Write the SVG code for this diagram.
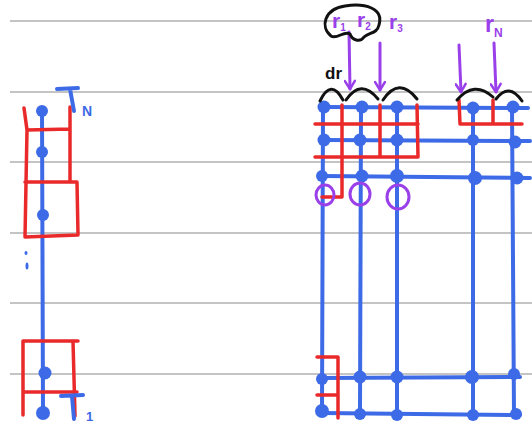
<svg xmlns="http://www.w3.org/2000/svg" width="532" height="429" viewBox="0 0 532 429">
<style>
.grid{stroke:#c4c4c4;stroke-width:2}
.bl{stroke:#3d6ae6;stroke-width:4;fill:none;stroke-linecap:round;stroke-linejoin:round}
.dot{fill:#3d6ae6}
.rd{stroke:#ea2a2a;stroke-width:3.5;fill:none;stroke-linecap:round;stroke-linejoin:round}
.pu{stroke:#9a40ea;stroke-width:3;fill:none;stroke-linecap:round}
.bk{stroke:#111;stroke-width:3;fill:none;stroke-linecap:round}
.lbl{font-family:"Liberation Sans",Arial,sans-serif;font-weight:bold}
.pt{fill:#9a40ea}
.bt{fill:#3d6ae6}
</style>
<defs>
<marker id="ah" viewBox="0 0 12 12" refX="10" refY="6" markerWidth="12" markerHeight="12" markerUnits="userSpaceOnUse" orient="auto">
<path d="M2,1 L10,6 L2,11" fill="none" stroke="#9a40ea" stroke-width="2.5" stroke-linecap="round" stroke-linejoin="round"/>
</marker>
</defs>
<g id="ruled-lines">
<line class="grid" x1="10" y1="21" x2="532" y2="21"/>
<line class="grid" x1="10" y1="92" x2="532" y2="92"/>
<line class="grid" x1="10" y1="162" x2="532" y2="162"/>
<line class="grid" x1="10" y1="233" x2="532" y2="233"/>
<line class="grid" x1="10" y1="303" x2="532" y2="303"/>
<line class="grid" x1="10" y1="374" x2="532" y2="374"/>
</g>
<g id="left-chain">
<line class="bl" x1="42" y1="108" x2="43" y2="413"/>
<circle class="dot" cx="42" cy="111" r="6"/>
<circle class="dot" cx="42" cy="152" r="6"/>
<circle class="dot" cx="43" cy="215" r="6"/>
<circle class="dot" cx="45" cy="373" r="6.5"/>
<circle class="dot" cx="43" cy="413" r="7"/>
<ellipse class="dot" cx="26" cy="253" rx="1.5" ry="2"/>
<ellipse class="dot" cx="27" cy="266" rx="1.5" ry="3.5"/>
</g>
<g id="left-boxes-top">
<path class="rd" d="M24,108 L27,130 L25,237 L78,235 L77,182 L25,182 M27,130 L70,129 M70,107 L70,182"/>
</g>
<g id="left-boxes-bottom">
<path class="rd" d="M23,415 L23,341 L78,341 M23,392 L77,392 M73,341 L75,416"/>
</g>
<g id="label-TN">
<path class="bl" d="M57,89 L78,88 M70,89 L74,111"/>
<text class="lbl bt" x="82" y="116" font-size="14">N</text>
</g>
<g id="label-T1">
<path class="bl" d="M61,396 L83,395 M72,396 L74,419"/>
<text class="lbl bt" x="86" y="421" font-size="13">1</text>
</g>
<g id="right-grid">
<line class="bl" x1="324" y1="107" x2="528" y2="108"/>
<line class="bl" x1="324" y1="140" x2="530" y2="141"/>
<line class="bl" x1="322" y1="176" x2="530" y2="178"/>
<line class="bl" x1="322" y1="378" x2="520" y2="377"/>
<line class="bl" x1="322" y1="413" x2="520" y2="415"/>
<line class="bl" x1="323" y1="107" x2="322" y2="413"/>
<line class="bl" x1="361" y1="107" x2="360" y2="414"/>
<line class="bl" x1="397" y1="107" x2="397" y2="416"/>
<line class="bl" x1="473" y1="107" x2="473" y2="415"/>
<line class="bl" x1="512" y1="107" x2="514" y2="415"/>
<g class="dot">
<circle cx="324" cy="107" r="6.5"/><circle cx="362" cy="107" r="6.5"/><circle cx="397" cy="107" r="6.5"/><circle cx="473" cy="108" r="6.5"/><circle cx="513" cy="107" r="6.5"/>
<circle cx="324" cy="140" r="6.5"/><circle cx="360" cy="140" r="6.5"/><circle cx="397" cy="140" r="6.5"/><circle cx="473" cy="140" r="6"/><circle cx="515" cy="142" r="6.5"/>
<circle cx="322" cy="176" r="6"/><circle cx="362" cy="176" r="6.5"/><circle cx="397" cy="176" r="7"/><circle cx="475" cy="178" r="7"/><circle cx="517" cy="178" r="6.5"/>
<circle cx="322" cy="379" r="6"/><circle cx="360" cy="377" r="6.5"/><circle cx="397" cy="377" r="6.5"/><circle cx="472" cy="377" r="7"/><circle cx="514" cy="374" r="6"/>
<circle cx="322" cy="411" r="7"/><circle cx="360" cy="414" r="6"/><circle cx="397" cy="415" r="6"/><circle cx="473" cy="415" r="6"/><circle cx="516" cy="414" r="6"/>
</g>
</g>
<g id="right-red-grid">
<path class="rd" d="M315,124 L418,124 M315,157 L418,157 M342,105 L342,197 L322,197 M380,105 L380,157 M417,105 L418,157"/>
<path class="rd" d="M459,100 L460,124 L522,124 M493,100 L493,124"/>
<path class="rd" d="M317,357 L338,357 L338,418 M317,395 L338,395"/>
</g>
<g id="circled-marks">
<ellipse class="pu" cx="325" cy="195" rx="9" ry="10"/>
<ellipse class="pu" cx="360" cy="194" rx="10" ry="11"/>
<ellipse class="pu" cx="398" cy="197" rx="11" ry="12"/>
</g>
<g id="arcs">
<path class="bk" d="M320,101 Q331,78 343,100"/>
<path class="bk" d="M346,100 Q361,78 378,99"/>
<path class="bk" d="M383,100 Q399,76 417,99"/>
<path class="bk" d="M457,100 Q474,80 493,97"/>
<path class="bk" d="M496,99 Q509,82 522,101"/>
<text class="lbl" x="325" y="79" font-size="17" fill="#111">dr</text>
</g>
<g id="arrows">
<line class="pu" x1="349" y1="32" x2="350" y2="89" marker-end="url(#ah)"/>
<line class="pu" x1="380" y1="43" x2="380" y2="90" marker-end="url(#ah)"/>
<line class="pu" x1="459" y1="45" x2="461" y2="92" marker-end="url(#ah)"/>
<line class="pu" x1="494" y1="43" x2="496" y2="92" marker-end="url(#ah)"/>
</g>
<g id="r-labels">
<path class="bk" d="M331,36 C320,27 324,9 345,6 C365,3 384,8 379,25 C377,34 369,32 364,37 C360,43 352,40 350,34 C344,30 337,40 331,36 Z"/>
<text class="lbl pt" x="332" y="28" font-size="21">r<tspan font-size="10" dy="3">1</tspan></text>
<text class="lbl pt" x="357" y="27" font-size="21">r<tspan font-size="10" dy="3">2</tspan></text>
<text class="lbl pt" x="389" y="29" font-size="21">r<tspan font-size="10" dy="3">3</tspan></text>
<text class="lbl pt" x="485" y="32" font-size="23">r<tspan font-size="12" dy="5">N</tspan></text>
</g>
</svg>
